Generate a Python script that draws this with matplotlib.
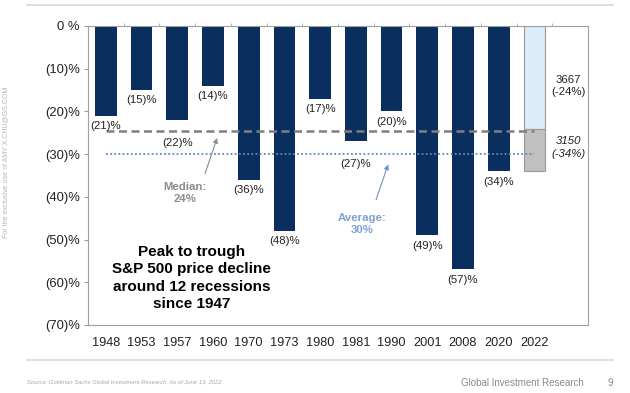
import numpy as np
import matplotlib
matplotlib.use("Agg")
import matplotlib.pyplot as plt

plt.rcParams['font.family'] = ['Liberation Sans', 'DejaVu Sans']

years = ["1948", "1953", "1957", "1960", "1970", "1973", "1980", "1981", "1990", "2001", "2008", "2020", "2022"]
declines = [21, 15, 22, 14, 36, 48, 17, 27, 20, 49, 57, 34]
base_2022 = 24     # 3667 scenario
bear_2022 = 34     # 3150 scenario
yticks = [0, -10, -20, -30, -40, -50, -60, -70]
ytick_labels = ["0 %", "(10)%", "(20)%", "(30)%", "(40)%", "(50)%", "(60)%", "(70)%"]

navy = "#0a2f5f"
median_val = np.median(declines)
avg_val = np.mean(declines)

fig = plt.figure(figsize=(6.3, 3.93), dpi=100)
ax = fig.add_axes([88/630, 1-325/393, 500/630, 299/393])

x = np.arange(len(years))
hist = np.array(declines)
ax.bar(x[:-1], -hist, width=0.61, color=navy, zorder=2)
ax.bar(x[-1], -base_2022, width=0.61, color="#dcecfb", edgecolor="#9a9a9a", linewidth=0.8, zorder=2)
ax.bar(x[-1], -(bear_2022 - base_2022), bottom=-base_2022, width=0.61, color="#c0c0c0",
       edgecolor="#9a9a9a", linewidth=0.8, zorder=2)

# reference lines
ax.plot(x, [-median_val]*len(x), color="#7f7f7f", linestyle=(0, (3.2, 1.8)), linewidth=1.8, zorder=3)
ax.plot(x, [-avg_val]*len(x), color="#5a8ac4", linestyle=(0, (1, 1.3)), linewidth=1.3, zorder=3)

# value labels
for i, v in enumerate(declines):
    off = -7.5
    if years[i] in ("1957", "1981"):
        off = -16.5
    ax.annotate(f"({v})%", (i, -v), xytext=(0, off), textcoords="offset points",
                ha="center", va="center", fontsize=8.2, color="#222222")

ax.text(12.95, -14.1, "3667\n(-24%)", ha="center", va="center", fontsize=8.2, color="#222222",
        linespacing=1.3)
ax.text(12.95, -28.4, "3150\n(-34%)", ha="center", va="center", fontsize=8.2, color="#222222",
        style="italic", linespacing=1.3)

# median / average annotations
ax.text(2.22, -39.1, f"Median:\n{median_val:.0f}%", ha="center", va="center", fontsize=8.2,
        color="#8c8c8c", fontweight="bold", linespacing=1.3)
ax.annotate("", xy=(3.14, -25.6), xytext=(2.75, -35.2),
            arrowprops=dict(arrowstyle="-|>", color="#8c8c8c", lw=0.8, mutation_scale=7))
ax.text(7.17, -46.4, f"Average:\n{avg_val:.0f}%", ha="center", va="center", fontsize=8.2,
        color="#7fa2cf", fontweight="bold", linespacing=1.3)
ax.annotate("", xy=(7.93, -31.8), xytext=(7.54, -41.3),
            arrowprops=dict(arrowstyle="-|>", color="#6d93c6", lw=0.8, mutation_scale=7))

ax.text(2.41, -59.0, "Peak to trough\nS&P 500 price decline\naround 12 recessions\nsince 1947",
        ha="center", va="center", fontsize=11, fontweight="bold", color="black", linespacing=1.28)

ax.set_xlim(-0.5, 13.5)
ax.set_ylim(-70, 0)
ax.set_yticks(yticks)
ax.set_yticklabels(ytick_labels, fontsize=9.4, color="#222222")
ax.set_xticks(x)
ax.set_xticklabels(years, fontsize=9.2, color="#222222")
ax.tick_params(axis="x", length=0, pad=9)
ax.tick_params(axis="y", length=3, color="#999999", pad=3)
ax.set_xticks(np.arange(len(years)) + 0.5, minor=True)
ax.tick_params(axis="x", which="minor", top=True, bottom=False, length=2.5, color="#aaaaaa",
               direction="out")
for s in ax.spines.values():
    s.set_color("#a0a0a0")
    s.set_linewidth(0.8)

# page decorations
fig.add_artist(plt.Line2D([27/630, 613/630], [1-5/393, 1-5/393], color="#d9d9d9", lw=1.2))
fig.add_artist(plt.Line2D([27/630, 613/630], [1-360/393, 1-360/393], color="#d9d9d9", lw=1.2))
fig.text(27/630, 1-382/393, "Source: Goldman Sachs Global Investment Research. As of June 13, 2022.",
         fontsize=4.2, color="#a8a8a8", style="italic", va="center")
fig.text(584/630, 1-383/393, "Global Investment Research", fontsize=7, color="#8a8a8a",
         ha="right", va="center")
fig.text(610/630, 1-383/393, "9", fontsize=7, color="#8a8a8a", ha="center", va="center")
fig.text(6/630, 1-162/393, "For the exclusive use of AMY X.CHU@GS.COM", rotation=90,
         fontsize=5, color="#b5b5b5", ha="center", va="center")

fig.savefig("out.png", dpi=100)
